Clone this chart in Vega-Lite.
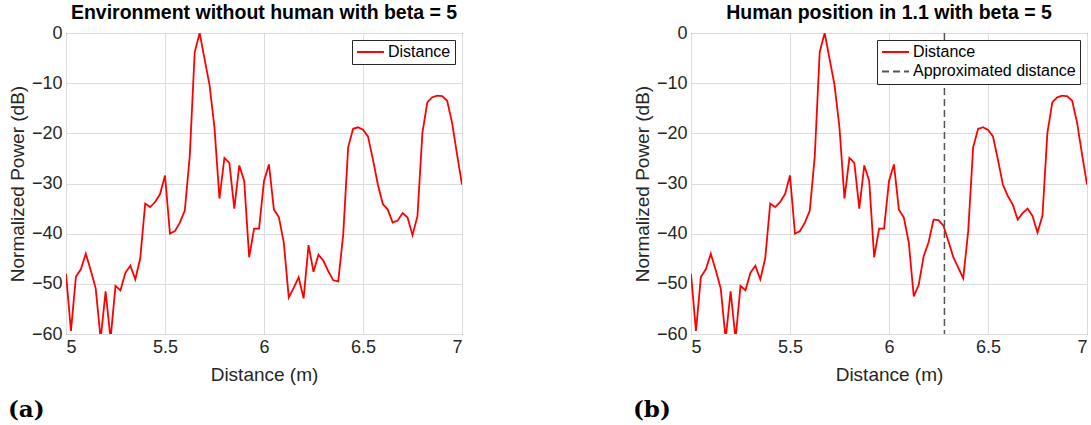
{
  "$schema": "https://vega.github.io/schema/vega-lite/v6.json",
  "padding": {"left": 7, "right": 0, "top": 2, "bottom": 0},
  "background": "white",
  "config": {
    "font": "Liberation Sans",
    "view": {"stroke": "#262626", "strokeWidth": 1},
    "axis": {"domain": false, "ticks": false, "grid": true, "gridColor": "#dcdcdc", "gridWidth": 1, "labelFontSize": 18, "labelColor": "#262626", "titleFontSize": 19, "titleColor": "#262626", "titleFontWeight": "normal", "labelPadding": 4},
    "axisX": {"titlePadding": 9},
    "axisY": {"titlePadding": 4},
    "title": {"fontSize": 19.5, "fontWeight": "bold", "color": "#000000", "offset": 1},
    "concat": {"spacing": 169}
  },
  "datasets": {
    "a": [
      {"d": 5.000, "p": -48.0}, {"d": 5.025, "p": -59.4}, {"d": 5.050, "p": -48.6}, {"d": 5.075, "p": -47.1},
      {"d": 5.100, "p": -44.0}, {"d": 5.125, "p": -47.3}, {"d": 5.150, "p": -50.9}, {"d": 5.175, "p": -61.0},
      {"d": 5.200, "p": -51.5}, {"d": 5.225, "p": -61.0}, {"d": 5.250, "p": -50.4}, {"d": 5.275, "p": -51.3},
      {"d": 5.300, "p": -47.8}, {"d": 5.325, "p": -46.4}, {"d": 5.350, "p": -49.1}, {"d": 5.375, "p": -44.9},
      {"d": 5.400, "p": -34.0}, {"d": 5.425, "p": -34.7}, {"d": 5.450, "p": -33.7}, {"d": 5.475, "p": -32.1},
      {"d": 5.500, "p": -28.4}, {"d": 5.525, "p": -40.0}, {"d": 5.550, "p": -39.5}, {"d": 5.575, "p": -37.8},
      {"d": 5.600, "p": -35.4}, {"d": 5.625, "p": -24.6}, {"d": 5.650, "p": -3.8}, {"d": 5.675, "p": 0.0},
      {"d": 5.700, "p": -5.2}, {"d": 5.725, "p": -10.4}, {"d": 5.750, "p": -18.9}, {"d": 5.775, "p": -33.0},
      {"d": 5.800, "p": -24.9}, {"d": 5.825, "p": -25.9}, {"d": 5.850, "p": -35.0}, {"d": 5.875, "p": -26.4},
      {"d": 5.900, "p": -29.5}, {"d": 5.925, "p": -44.7}, {"d": 5.950, "p": -39.0}, {"d": 5.975, "p": -39.0},
      {"d": 6.000, "p": -29.5}, {"d": 6.025, "p": -26.2}, {"d": 6.050, "p": -35.2}, {"d": 6.075, "p": -36.7},
      {"d": 6.100, "p": -41.8}, {"d": 6.125, "p": -52.7}, {"d": 6.150, "p": -50.8}, {"d": 6.175, "p": -48.7},
      {"d": 6.200, "p": -52.9}, {"d": 6.225, "p": -42.3}, {"d": 6.250, "p": -47.6}, {"d": 6.275, "p": -44.2},
      {"d": 6.300, "p": -45.4}, {"d": 6.325, "p": -47.5}, {"d": 6.350, "p": -49.3}, {"d": 6.375, "p": -49.5},
      {"d": 6.400, "p": -40.2}, {"d": 6.425, "p": -22.8}, {"d": 6.450, "p": -19.1}, {"d": 6.475, "p": -18.8},
      {"d": 6.500, "p": -19.3}, {"d": 6.525, "p": -20.6}, {"d": 6.550, "p": -25.2}, {"d": 6.575, "p": -30.2},
      {"d": 6.600, "p": -34.1}, {"d": 6.625, "p": -35.2}, {"d": 6.650, "p": -37.8}, {"d": 6.675, "p": -37.4},
      {"d": 6.700, "p": -35.9}, {"d": 6.725, "p": -36.8}, {"d": 6.750, "p": -40.3}, {"d": 6.775, "p": -36.5},
      {"d": 6.800, "p": -19.9}, {"d": 6.825, "p": -13.8}, {"d": 6.850, "p": -12.8}, {"d": 6.875, "p": -12.5},
      {"d": 6.900, "p": -12.6}, {"d": 6.925, "p": -13.5}, {"d": 6.950, "p": -17.9}, {"d": 6.975, "p": -24.2},
      {"d": 7.000, "p": -30.2}
    ],
    "b": [
      {"d": 5.000, "p": -48.0}, {"d": 5.025, "p": -59.4}, {"d": 5.050, "p": -48.6}, {"d": 5.075, "p": -47.1},
      {"d": 5.100, "p": -44.0}, {"d": 5.125, "p": -47.3}, {"d": 5.150, "p": -50.9}, {"d": 5.175, "p": -61.0},
      {"d": 5.200, "p": -51.5}, {"d": 5.225, "p": -61.0}, {"d": 5.250, "p": -50.4}, {"d": 5.275, "p": -51.3},
      {"d": 5.300, "p": -47.8}, {"d": 5.325, "p": -46.4}, {"d": 5.350, "p": -49.1}, {"d": 5.375, "p": -44.9},
      {"d": 5.400, "p": -34.0}, {"d": 5.425, "p": -34.7}, {"d": 5.450, "p": -33.7}, {"d": 5.475, "p": -32.1},
      {"d": 5.500, "p": -28.4}, {"d": 5.525, "p": -40.0}, {"d": 5.550, "p": -39.5}, {"d": 5.575, "p": -37.8},
      {"d": 5.600, "p": -35.4}, {"d": 5.625, "p": -24.6}, {"d": 5.650, "p": -3.8}, {"d": 5.675, "p": 0.0},
      {"d": 5.700, "p": -5.2}, {"d": 5.725, "p": -10.4}, {"d": 5.750, "p": -18.9}, {"d": 5.775, "p": -33.0},
      {"d": 5.800, "p": -24.9}, {"d": 5.825, "p": -25.9}, {"d": 5.850, "p": -35.0}, {"d": 5.875, "p": -26.4},
      {"d": 5.900, "p": -29.5}, {"d": 5.925, "p": -44.7}, {"d": 5.950, "p": -39.0}, {"d": 5.975, "p": -39.0},
      {"d": 6.000, "p": -29.5}, {"d": 6.025, "p": -26.2}, {"d": 6.050, "p": -35.2}, {"d": 6.075, "p": -36.8},
      {"d": 6.100, "p": -41.8}, {"d": 6.125, "p": -52.5}, {"d": 6.150, "p": -50.2}, {"d": 6.175, "p": -44.5},
      {"d": 6.200, "p": -41.7}, {"d": 6.225, "p": -37.2}, {"d": 6.250, "p": -37.3}, {"d": 6.275, "p": -38.4},
      {"d": 6.300, "p": -41.5}, {"d": 6.325, "p": -44.7}, {"d": 6.350, "p": -46.8}, {"d": 6.375, "p": -48.9},
      {"d": 6.400, "p": -39.5}, {"d": 6.425, "p": -22.8}, {"d": 6.450, "p": -19.1}, {"d": 6.475, "p": -18.8},
      {"d": 6.500, "p": -19.3}, {"d": 6.525, "p": -20.6}, {"d": 6.550, "p": -25.2}, {"d": 6.575, "p": -30.2},
      {"d": 6.600, "p": -32.5}, {"d": 6.625, "p": -34.2}, {"d": 6.650, "p": -37.2}, {"d": 6.675, "p": -35.9},
      {"d": 6.700, "p": -35.0}, {"d": 6.725, "p": -36.5}, {"d": 6.750, "p": -39.8}, {"d": 6.775, "p": -36.4},
      {"d": 6.800, "p": -19.9}, {"d": 6.825, "p": -13.8}, {"d": 6.850, "p": -12.8}, {"d": 6.875, "p": -12.5},
      {"d": 6.900, "p": -12.6}, {"d": 6.925, "p": -13.5}, {"d": 6.950, "p": -17.9}, {"d": 6.975, "p": -24.2},
      {"d": 7.000, "p": -30.2}
    ],
    "approx": [{"d": 6.28}]
  },
  "resolve": {"scale": {"color": "independent", "strokeDash": "independent"}},
  "hconcat": [
    {
      "title": {"text": "(a)", "orient": "bottom", "anchor": "start", "font": "DejaVu Serif", "fontSize": 23, "fontWeight": "bold", "color": "#000000", "offset": 14},
      "resolve": {"scale": {"color": "independent", "strokeDash": "independent"}},
      "vconcat": [
        {
          "title": "Environment without human with beta = 5",
          "width": 396,
          "height": 301,
          "data": {"name": "a"},
          "mark": {"type": "line", "strokeWidth": 1.8, "clip": true},
          "encoding": {
            "x": {"field": "d", "type": "quantitative", "title": "Distance (m)", "scale": {"domain": [5, 7], "nice": false}, "axis": {"values": [5, 5.5, 6, 6.5, 7], "format": "~g"}},
            "y": {"field": "p", "type": "quantitative", "title": "Normalized Power (dB)", "scale": {"domain": [-60, 0], "nice": false}, "axis": {"values": [-60, -50, -40, -30, -20, -10, 0], "format": "d"}},
            "color": {"datum": "Distance", "scale": {"domain": ["Distance"], "range": ["#ff0000"]},
              "legend": {"title": null, "orient": "top-right", "offset": 7, "strokeColor": "#262626", "fillColor": "white", "padding": 4, "labelFontSize": 16, "labelColor": "#000000", "labelLimit": 300, "symbolType": "M-1,0H2.857", "symbolSize": 196, "symbolStrokeWidth": 2, "labelOffset": 16, "rowPadding": 3.4, "cornerRadius": 0}}
          }
        }
      ]
    },
    {
      "title": {"text": "(b)", "orient": "bottom", "anchor": "start", "font": "DejaVu Serif", "fontSize": 23, "fontWeight": "bold", "color": "#000000", "offset": 14},
      "resolve": {"scale": {"color": "independent", "strokeDash": "independent"}},
      "vconcat": [
        {
          "title": "Human position in 1.1 with beta = 5",
          "width": 396,
          "height": 301,
          "encoding": {
            "x": {"field": "d", "type": "quantitative", "title": "Distance (m)", "scale": {"domain": [5, 7], "nice": false}, "axis": {"values": [5, 5.5, 6, 6.5, 7], "format": "~g"}},
            "color": {"datum": "Distance", "scale": {"domain": ["Distance", "Approximated distance"], "range": ["#ff0000", "#555555"]},
              "legend": {"title": null, "orient": "top-right", "offset": 7, "strokeColor": "#262626", "fillColor": "white", "padding": 4, "labelFontSize": 16, "labelColor": "#000000", "labelLimit": 300, "symbolType": "M-1,0H2.857", "symbolSize": 196, "symbolStrokeWidth": 2, "labelOffset": 16, "rowPadding": 3.4, "cornerRadius": 0}}
          },
          "layer": [
            {
              "data": {"name": "b"},
              "mark": {"type": "line", "strokeWidth": 1.8, "clip": true},
              "encoding": {
                "y": {"field": "p", "type": "quantitative", "title": "Normalized Power (dB)", "scale": {"domain": [-60, 0], "nice": false}, "axis": {"values": [-60, -50, -40, -30, -20, -10, 0], "format": "d"}},
                "strokeDash": {"datum": "Distance", "scale": {"domain": ["Distance", "Approximated distance"], "range": [[1, 0], [7, 4]]}, "legend": null}
              }
            },
            {
              "data": {"name": "approx"},
              "mark": {"type": "rule", "strokeWidth": 1.5},
              "encoding": {
                "color": {"datum": "Approximated distance"},
                "strokeDash": {"datum": "Approximated distance", "legend": null}
              }
            }
          ]
        }
      ]
    }
  ]
}
